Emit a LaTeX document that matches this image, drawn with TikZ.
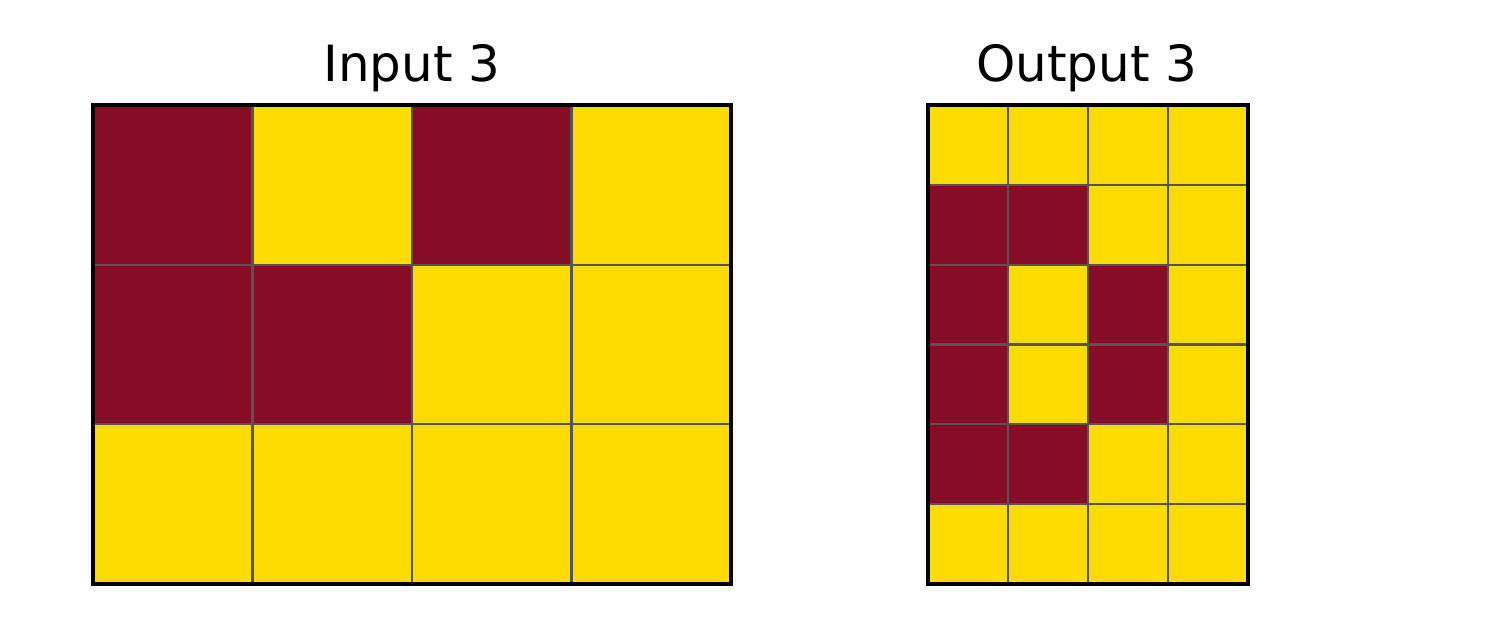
\documentclass[tikz,border=0pt]{standalone}
\usepackage{fontspec}
\setmainfont{DejaVu Sans}
\usepackage{xcolor}
\definecolor{cellR}{RGB}{135,13,38}
\definecolor{cellY}{RGB}{252,220,0}
\definecolor{gridcolor}{RGB}{85,85,85}
\usepackage{tikz}

\begin{document}
\begin{tikzpicture}[cell/.style={draw=gridcolor, line width=0.6pt},
    frame/.style={draw=black, line width=0.95pt},
    every node/.style={font=\fontsize{14.2}{17}\selectfont, anchor=base}]
  \useasboundingbox (0,0) rectangle (15,6.29);
  % input grid
  \foreach \row [count=\r from 0] in {{R,Y,R,Y},{R,R,Y,Y},{Y,Y,Y,Y}} {
    \foreach \c [count=\k from 0] in \row {
      \filldraw[cell, fill=cell\c] ({0.93+\k*1.595},{5.24-\r*1.5967}) rectangle ++(1.595,-1.5967);
    }
  }
  \draw[frame] (0.93,0.45) rectangle (7.31,5.24);
  \node (intitle) at (4.12,5.47) {Input 3};
  % output grid
  \foreach \row [count=\r from 0] in {{Y,Y,Y,Y},{R,R,Y,Y},{R,Y,R,Y},{R,Y,R,Y},{R,R,Y,Y},{Y,Y,Y,Y}} {
    \foreach \c [count=\k from 0] in \row {
      \filldraw[cell, fill=cell\c] ({9.28+\k*0.8},{5.24-\r*0.7983}) rectangle ++(0.8,-0.7983);
    }
  }
  \draw[frame] (9.28,0.45) rectangle (12.48,5.24);
  \node (outtitle) at (10.87,5.47) {Output 3};
\end{tikzpicture}
\end{document}
